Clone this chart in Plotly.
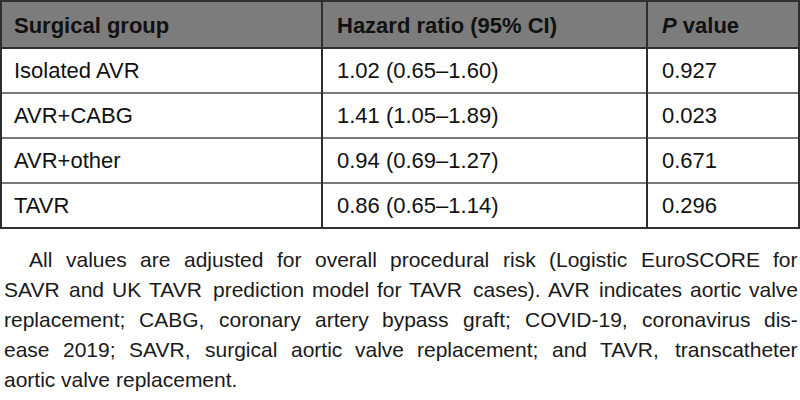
import plotly.graph_objects as go

# table content
headers = ["<b>Surgical group</b>", "<b>Hazard ratio (95% CI)</b>", "<b><i>P</i> value</b>"]
groups = ["Isolated AVR", "AVR+CABG", "AVR+other", "TAVR"]
hazard_ratio = ["1.02 (0.65–1.60)", "1.41 (1.05–1.89)", "0.94 (0.69–1.27)", "0.86 (0.65–1.14)"]
p_values = ["0.927", "0.023", "0.671", "0.296"]

# footnote, one entry per printed line
note_lines = [
    "All values are adjusted for overall procedural risk (Logistic EuroSCORE for",
    "SAVR and UK TAVR prediction model for TAVR cases). AVR indicates aortic valve",
    "replacement; CABG, coronary artery bypass graft; COVID-19, coronavirus dis-",
    "ease 2019; SAVR, surgical aortic valve replacement; and TAVR, transcatheter",
    "aortic valve replacement.",
]

W, H = 800, 400
FONT = "Liberation Sans"
col_px = [322, 325, 153]     # ruled column widths
text_x = [14, 337, 662]      # where cell text starts
PAD = 8                      # plotly's built-in cell padding
header_h = 48
row_h = 45
table_h = header_h + row_h * len(groups)
text_drop = 5                # push cell text down to sit mid-row

# Arial / Liberation Sans advance widths (1/1000 em), used to justify the note
ARIAL = {" ": 278, "(": 333, ")": 333, "-": 333, ".": 278, ",": 278, ";": 278}
ARIAL.update({d: 556 for d in "0123456789"})
ARIAL.update(dict(zip("ABCDEFGHIJKLMNOPQRSTUVWXYZ",
                      [667, 667, 722, 722, 667, 611, 778, 722, 278, 500, 667, 556, 833,
                       722, 778, 667, 778, 722, 667, 611, 722, 667, 944, 667, 667, 611])))
ARIAL.update(dict(zip("abcdefghijklmnopqrstuvwxyz",
                      [556, 556, 500, 556, 556, 278, 556, 556, 222, 222, 500, 222, 833,
                       556, 556, 556, 556, 333, 500, 278, 556, 500, 722, 500, 500, 500])))


def text_w(s, size):
    return sum(ARIAL.get(c, 556) for c in s) * size / 1000


# table cells carry only the text; rules and fills are drawn as shapes
x_start = text_x[0] - PAD
cell_w = [text_x[1] - text_x[0], text_x[2] - text_x[1], W - text_x[2] + PAD]
fig = go.Figure(go.Table(
    domain=dict(x=[x_start / W, 1], y=[1 - (text_drop + 240) / H, 1 - text_drop / H]),
    columnwidth=cell_w,
    header=dict(
        values=headers,
        fill_color="rgba(0,0,0,0)",
        line=dict(width=0),
        font=dict(family=FONT, size=22, color="#111111"),
        align="left",
        height=header_h,
    ),
    cells=dict(
        values=[groups, hazard_ratio, p_values],
        fill_color="rgba(0,0,0,0)",
        line=dict(width=0),
        font=dict(family=FONT, size=22, color="#111111"),
        align="left",
        height=row_h,
    ),
))

dark = "#2e2e2e"
shapes = [dict(type="rect", xref="paper", yref="paper", layer="below",
               x0=0, x1=1, y0=1, y1=1 - header_h / H,
               fillcolor="#7c7c7c", line=dict(width=0))]
for k in range(1, len(groups)):
    yy = 1 - (header_h + row_h * k) / H
    shapes.append(dict(type="line", xref="paper", yref="paper",
                       x0=0, x1=1, y0=yy, y1=yy,
                       line=dict(color="#7a7a7a", width=2)))
x_acc = 0
for w in col_px[:-1]:
    x_acc += w
    shapes.append(dict(type="line", xref="paper", yref="paper",
                       x0=x_acc / W, x1=x_acc / W, y0=1, y1=1 - table_h / H,
                       line=dict(color=dark, width=2)))
shapes.append(dict(type="line", xref="paper", yref="paper",
                   x0=0, x1=1, y0=1 - header_h / H, y1=1 - header_h / H,
                   line=dict(color=dark, width=2)))
shapes.append(dict(type="rect", xref="paper", yref="paper",
                   x0=1 / W, x1=1 - 1 / W, y0=1 - 1 / H, y1=1 - table_h / H,
                   line=dict(color=dark, width=2)))

# justified footnote, word by word
fs = 21
annotations = []
for i, line in enumerate(note_lines):
    words = line.split(" ")
    left = 28 if i == 0 else 3
    right = 797
    widths = [text_w(w, fs) for w in words]
    if i == len(note_lines) - 1:
        gap = text_w(" ", fs)
    else:
        gap = (right - left - sum(widths)) / (len(words) - 1)
    yc = 259 + 30 * i
    x = left
    for word, ww in zip(words, widths):
        annotations.append(dict(
            text=word, x=x / W, y=1 - yc / H, xref="paper", yref="paper",
            xanchor="left", yanchor="middle", showarrow=False, borderpad=0,
            font=dict(family=FONT, size=fs, color="#1a1a1a"),
        ))
        x += ww + gap

fig.update_layout(
    width=W, height=H,
    margin=dict(l=0, r=0, t=0, b=0),
    paper_bgcolor="white",
    shapes=shapes,
    annotations=annotations,
)

fig.write_html("out.html", config={"displayModeBar": False},
               post_script="document.body.style.margin = '0';")
